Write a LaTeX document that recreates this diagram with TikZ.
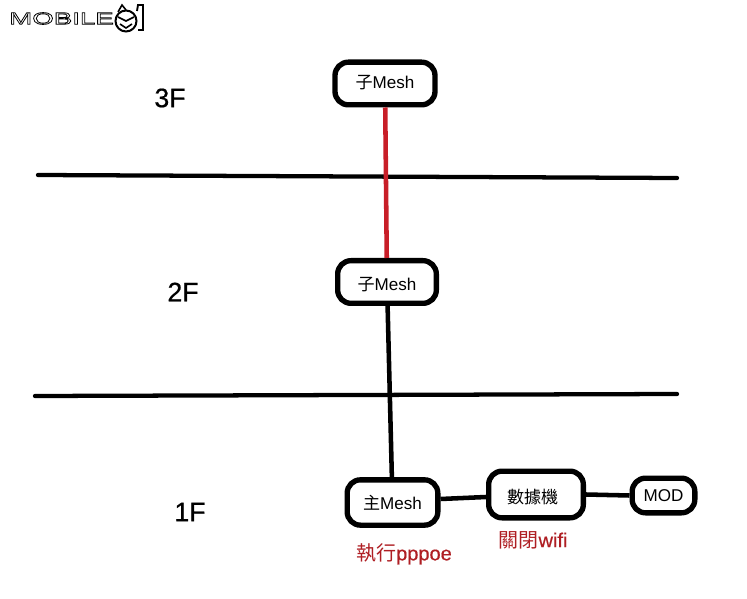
\documentclass[tikz,border=0pt]{standalone}
\usepackage{fontspec}
\setmainfont{Liberation Sans}
\newfontfamily\cjk{Noto Sans CJK TC}
\usetikzlibrary{calc}
\definecolor{linkred}{RGB}{200,30,40}
\definecolor{notered}{RGB}{175,30,35}
\tikzset{
	box/.style={draw=black, line width=4pt, rounded corners=10pt, fill=white, inner sep=0pt, text depth=0pt, font=\fontsize{12.8}{14}\selectfont},
	floorline/.style={line width=3.2pt, line cap=round},
	link/.style={line width=3.4pt},
	floorlabel/.style={font=\addfontfeatures{FakeBold=0.6}\fontsize{20}{22}\selectfont, inner sep=0pt},
	notelabel/.style={text=notered, inner sep=0pt, font=\addfontfeatures{FakeBold=0.4}\fontsize{15}{17}\selectfont}
}

\begin{document}
\begin{tikzpicture}[x=0.75pt, y=-0.75pt]
			%%%%% START %%%%%
			\useasboundingbox[fill=white] (0, 0) rectangle (747, 599);

			% logo
			\node[inner sep=0pt, anchor=west] (logotext) at (9, 18.5) {\addfontfeatures{FakeStretch=1.66}\fontsize{12.5}{14}\selectfont\special{pdf:code 1 Tr 0.6 w}MOBILE\special{pdf:code 0 Tr}};
			\draw[line width=1.5pt] (126, 21) circle (10.5);
			\draw[line width=1.2pt] (118, 17) -- (126, 21) -- (134, 17);
			\draw[line width=1.2pt] (120, 24) -- (126, 28) -- (132, 24);
			\draw[line width=1.2pt] (118, 12) -- (122, 5) -- (126, 10);
			\draw[line width=1.4pt] (137, 11) -- (138, 5) -- (143, 5) -- (143, 30) -- (138, 30);

			% floors
			\coordinate (upperL) at (38, 175);
			\coordinate (upperR) at (677, 178);
			\coordinate (lowerL) at (35, 396);
			\coordinate (lowerR) at (677, 394);
			\draw[floorline] (upperL) -- (upperR);
			\draw[floorline] (lowerL) -- (lowerR);

			\node[floorlabel] (floorthree) at (170, 98) {3F};
			\node[floorlabel] (floortwo) at (183, 292) {2F};
			\node[floorlabel] (floorone) at (190, 512) {1F};

			% boxes
			\node[box, text height=7pt, minimum width=75pt, minimum height=32pt] (subtop) at (385, 83.5) {{\cjk 子}Mesh};
			\node[box, text height=13.5pt, minimum width=74pt, minimum height=32pt] (submid) at (387, 282) {{\cjk 子}Mesh};
			\node[box, text height=11pt, minimum width=68pt, minimum height=34pt] (mainmesh) at (392.5, 502.5) {{\cjk 主}Mesh};
			\node[box, text height=14pt, minimum width=71pt, minimum height=35pt] (modem) at (536, 494.5) {\hspace{-5pt}{\cjk 數據機}};
			\node[box, text height=9pt, minimum width=47pt, minimum height=26pt] (mod) at (663.5, 495.5) {MOD};

			% links
			\draw[link, color=linkred] (subtop) -- (submid);
			\draw[link] (submid) -- (mainmesh);
			\draw[link] ($(mainmesh.east)+(0,-3.5)$) -- ($(modem.west)+(0,2.5)$);
			\draw[link] (modem.east) -- (mod.west);

			\node[notelabel] (pppoe) at (404, 554) {{\cjk 執行}pppoe};
			\node[notelabel] (wifi) at (533, 540) {{\cjk 關閉}wifi};
			%%%%% END %%%%%
		\end{tikzpicture}
\end{document}
